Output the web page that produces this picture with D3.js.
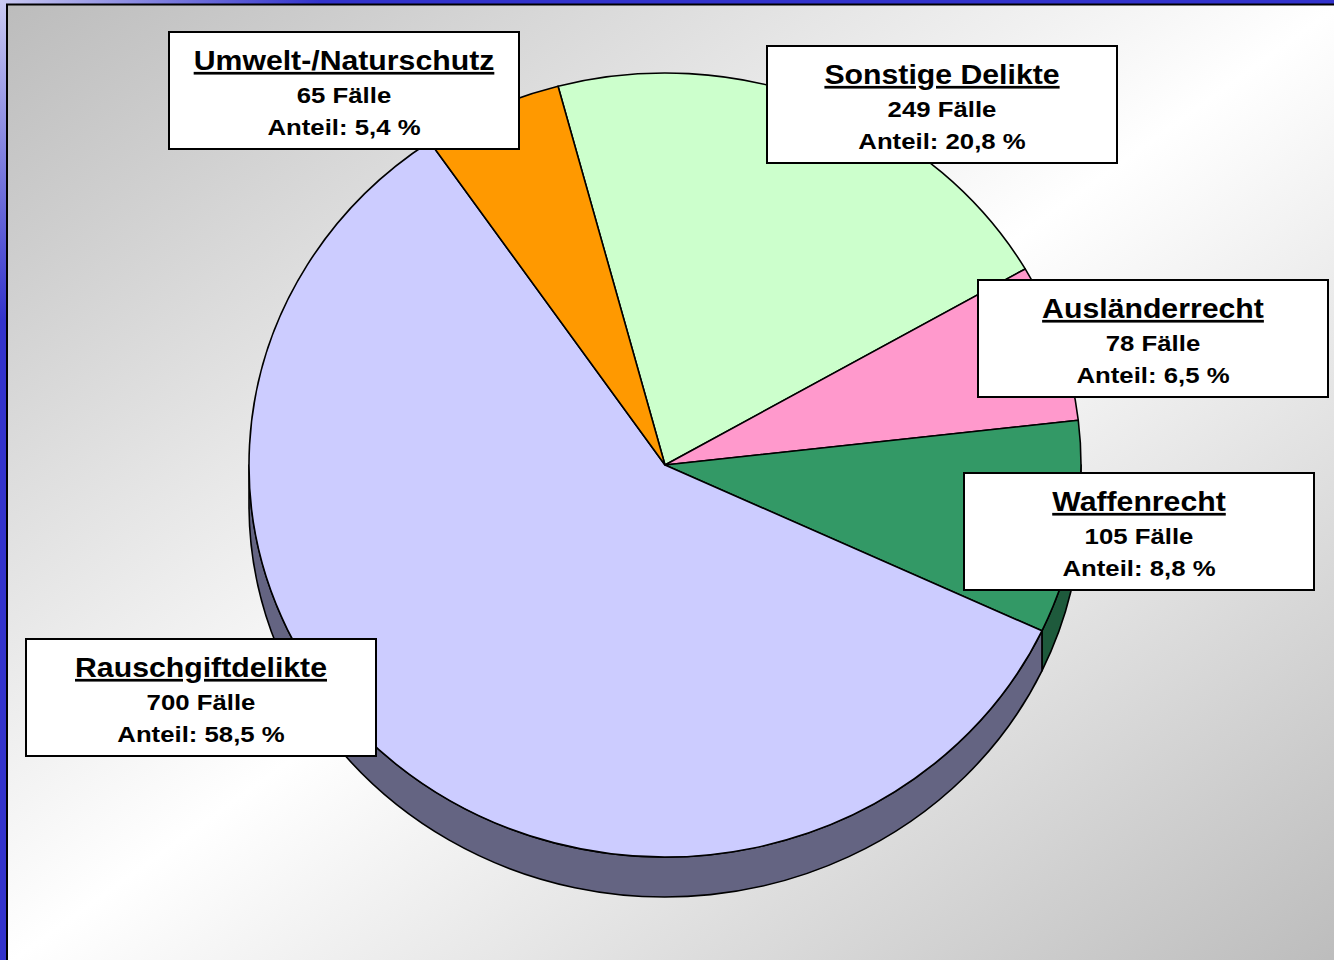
<!DOCTYPE html>
<html>
<head>
<meta charset="utf-8">
<script src="https://cdn.jsdelivr.net/npm/d3@7"></script>
<style>
  html, body { margin: 0; padding: 0; background: #fff; }
  svg { display: block; }
  text { font-family: "Liberation Sans", Arial, sans-serif; font-weight: bold; fill: #000; }
</style>
</head>
<body>
<div id="chart"></div>
<script>
// data, clockwise from the top
const categories = ['Sonstige Delikte', 'Ausländerrecht', 'Waffenrecht', 'Rauschgiftdelikte', 'Umwelt-/Naturschutz']
const cases = [249, 78, 105, 700, 65]
const shares = ['20,8', '6,5', '8,8', '58,5', '5,4']

// styles
const topColors = ['#ccffcc', '#ff99cc', '#339966', '#ccccff', '#ff9900']
const sideColors = ['#668066', '#804c66', '#1e5a3c', '#646482', '#804c00']

// label box top-left corners
const boxPos = [[767, 46], [978, 280], [964, 473], [26, 639], [169, 32]]

const width = 1334
const height = 960
const cx = 665
const cy = 465
const rx = 416
const ry = 392
const depth = 40
const k = ry / rx

const svg = d3.select('#chart')
  .append('svg')
  .attr('width', width)
  .attr('height', height)

const defs = svg.append('defs')

const frameGrad = defs.append('radialGradient')
  .attr('id', 'frameGrad')
  .attr('gradientUnits', 'userSpaceOnUse')
  .attr('cx', 0).attr('cy', 0).attr('r', 320)
frameGrad.append('stop').attr('offset', 0).attr('stop-color', '#cacaf2')
frameGrad.append('stop').attr('offset', 1).attr('stop-color', '#3333cc')

const bgGrad = defs.append('linearGradient')
  .attr('id', 'bgGrad')
  .attr('x1', 0).attr('y1', 0).attr('x2', 1).attr('y2', 1)
bgGrad.append('stop').attr('offset', 0).attr('stop-color', '#bcbcbc')
bgGrad.append('stop').attr('offset', 0.5).attr('stop-color', '#ffffff')
bgGrad.append('stop').attr('offset', 1).attr('stop-color', '#bcbcbc')

svg.append('rect')
  .attr('width', width)
  .attr('height', height)
  .attr('fill', 'url(#frameGrad)')

svg.append('rect')
  .attr('x', 7)
  .attr('y', 4.5)
  .attr('width', width)
  .attr('height', height)
  .attr('fill', 'url(#bgGrad)')
  .attr('stroke', '#000')
  .attr('stroke-width', 2)

const startAngle = -14.9 * Math.PI / 180

const pie = d3.pie()
  .sort(null)
  .startAngle(startAngle)
  .endAngle(startAngle + 2 * Math.PI)

const slices = pie(cases)

const arc = d3.arc()
  .innerRadius(0)
  .outerRadius(rx)

const pieG = svg.append('g')
  .attr('transform', `translate(${cx},${cy}) scale(1,${k})`)

// side wall, only the front half is visible
const sidePath = (d) => {
  const lo = Math.max(d.startAngle, Math.PI / 2)
  const hi = Math.min(d.endAngle, 3 * Math.PI / 2)
  if (lo >= hi) return null
  const t0 = lo - Math.PI / 2
  const t1 = hi - Math.PI / 2
  const dd = depth / k
  const p = d3.path()
  p.moveTo(rx * Math.cos(t0), rx * Math.sin(t0))
  p.arc(0, 0, rx, t0, t1)
  p.lineTo(rx * Math.cos(t1), rx * Math.sin(t1) + dd)
  p.arc(0, dd, rx, t1, t0, true)
  p.closePath()
  return p.toString()
}

pieG.selectAll('.side')
  .data(slices.filter((d) => sidePath(d)))
  .enter()
  .append('path')
  .attr('class', 'side')
  .attr('d', sidePath)
  .attr('fill', (d) => sideColors[d.index])
  .attr('stroke', '#000')
  .attr('stroke-width', 1.6)
  .attr('stroke-linejoin', 'round')
  .attr('vector-effect', 'non-scaling-stroke')

pieG.selectAll('.slice')
  .data(slices)
  .enter()
  .append('path')
  .attr('class', 'slice')
  .attr('d', arc)
  .attr('fill', (d) => topColors[d.index])
  .attr('stroke', '#000')
  .attr('stroke-width', 1.6)
  .attr('stroke-linejoin', 'round')
  .attr('vector-effect', 'non-scaling-stroke')

// label boxes
const boxW = 350
const boxH = 117
const sx = 1.12

const labels = svg.selectAll('.label')
  .data(categories)
  .enter()
  .append('g')
  .attr('class', 'label')
  .attr('transform', (d, i) => `translate(${boxPos[i][0]},${boxPos[i][1]})`)

labels.append('rect')
  .attr('width', boxW)
  .attr('height', boxH)
  .attr('fill', '#fff')
  .attr('stroke', '#000')
  .attr('stroke-width', 2)

labels.append('text')
  .attr('transform', `translate(${boxW / 2},38) scale(${sx},1)`)
  .attr('text-anchor', 'middle')
  .attr('font-size', 27)
  .attr('text-decoration', 'underline')
  .text((d) => d)

labels.append('text')
  .attr('transform', `translate(${boxW / 2},71) scale(${sx},1)`)
  .attr('text-anchor', 'middle')
  .attr('font-size', 23)
  .text((d, i) => `${cases[i]} Fälle`)

labels.append('text')
  .attr('transform', `translate(${boxW / 2},103) scale(${sx},1)`)
  .attr('text-anchor', 'middle')
  .attr('font-size', 23)
  .text((d, i) => `Anteil: ${shares[i]} %`)
</script>
</body>
</html>
